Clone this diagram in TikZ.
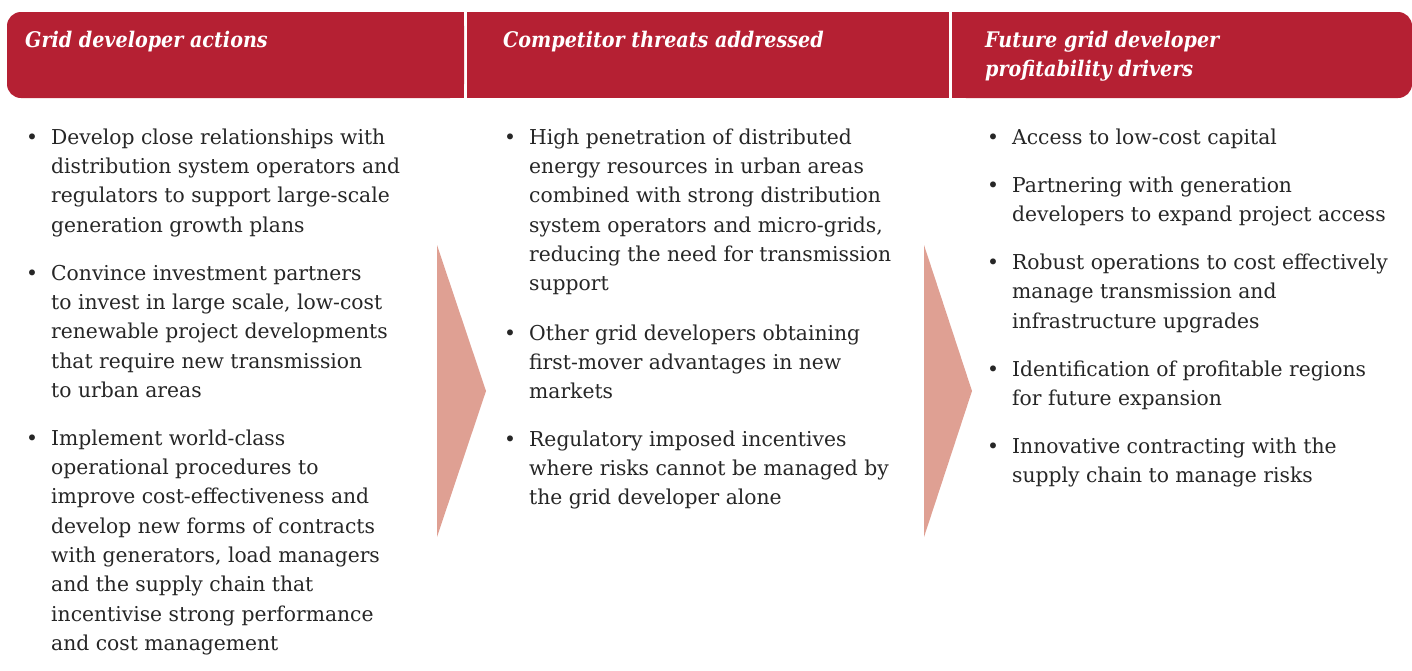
\documentclass[tikz,border=0pt]{standalone}
\usepackage{fontspec}
\setmainfont{DejaVu Serif}[FakeStretch=0.99]
\newfontfamily\headfam{DejaVu Serif}[FakeStretch=0.89]
\definecolor{hdr}{RGB}{181,32,51}
\definecolor{arr}{RGB}{223,160,147}
\definecolor{txt}{RGB}{38,38,38}
\newcommand{\bodyfont}{\fontsize{20.5}{29.3}\selectfont}
\newcommand{\headfont}{\headfam\fontsize{21.5}{29}\selectfont\bfseries\itshape}
\begin{document}
\begin{tikzpicture}[x=1pt,y=-1pt,
  item/.style={anchor=north west,inner sep=0pt,align=left,text=txt,font=\bodyfont},
  bul/.style={anchor=north west,inner sep=0pt,text=txt,font=\bodyfont},
  headtxt/.style={anchor=north west,inner sep=0pt,align=left,text=white,font=\headfont},
  chevron/.style={fill=arr}]
\useasboundingbox (0,0) rectangle (1412,670);
% header bands
\fill[hdr,rounded corners=14pt] (7,12) rectangle (464,98);
\fill[hdr] (40,12) rectangle (464,98);
\fill[hdr] (467,12) rectangle (949,98);
\fill[hdr,rounded corners=14pt] (952,12) rectangle (1412,98);
\fill[hdr] (952,12) rectangle (1380,98);
% header texts (baseline 47, strut height 0.7*29)
\node[headtxt] (h1) at (25,26.7) {\strut Grid developer actions};
\node[headtxt] (h2) at (503,26.7) {\strut Competitor threats addressed};
\node[headtxt] (h3) at (985,26.7) {\strut Future grid developer\\profitability drivers};
% chevrons
\fill[chevron] (437,245) -- (486,391) -- (437,537) -- cycle;
\fill[chevron] (924,245) -- (972,391) -- (924,537) -- cycle;
% column 1
\node[bul] (b11) at (26,123.5) {\strut •};
\node[item] (a11) at (51,123.5) {\strut Develop close relationships with\\distribution system operators and\\regulators to support large-scale\\generation growth plans};
\node[bul] (b12) at (26,259.5) {\strut •};
\node[item] (a12) at (51,259.5) {\strut Convince investment partners\\to invest in large scale, low-cost\\renewable project developments\\that require new transmission\\to urban areas};
\node[bul] (b13) at (26,424.5) {\strut •};
\node[item] (a13) at (51,424.5) {\strut Implement world-class\\operational procedures to\\improve cost-effectiveness and\\develop new forms of contracts\\with generators, load managers\\and the supply chain that\\incentivise strong performance\\and cost management};
% column 2
\node[bul] (b21) at (504,123.5) {\strut •};
\node[item] (a21) at (529,123.5) {\strut High penetration of distributed\\energy resources in urban areas\\combined with strong distribution\\system operators and micro-grids,\\reducing the need for transmission\\support};
\node[bul] (b22) at (504,319.5) {\strut •};
\node[item] (a22) at (529,319.5) {\strut Other grid developers obtaining\\first-mover advantages in new\\markets};
\node[bul] (b23) at (504,425.5) {\strut •};
\node[item] (a23) at (529,425.5) {\strut Regulatory imposed incentives\\where risks cannot be managed by\\the grid developer alone};
% column 3
\node[bul] (b31) at (987,123.5) {\strut •};
\node[item] (a31) at (1012,123.5) {\strut Access to low-cost capital};
\node[bul] (b32) at (987,171.5) {\strut •};
\node[item] (a32) at (1012,171.5) {\strut Partnering with generation\\developers to expand project access};
\node[bul] (b33) at (987,248.8) {\strut •};
\node[item] (a33) at (1012,248.8) {\strut Robust operations to cost effectively\\manage transmission and\\infrastructure upgrades};
\node[bul] (b34) at (987,355.4) {\strut •};
\node[item] (a34) at (1012,355.4) {\strut Identification of profitable regions\\for future expansion};
\node[bul] (b35) at (987,432.7) {\strut •};
\node[item] (a35) at (1012,432.7) {\strut Innovative contracting with the\\supply chain to manage risks};
\end{tikzpicture}
\end{document}
